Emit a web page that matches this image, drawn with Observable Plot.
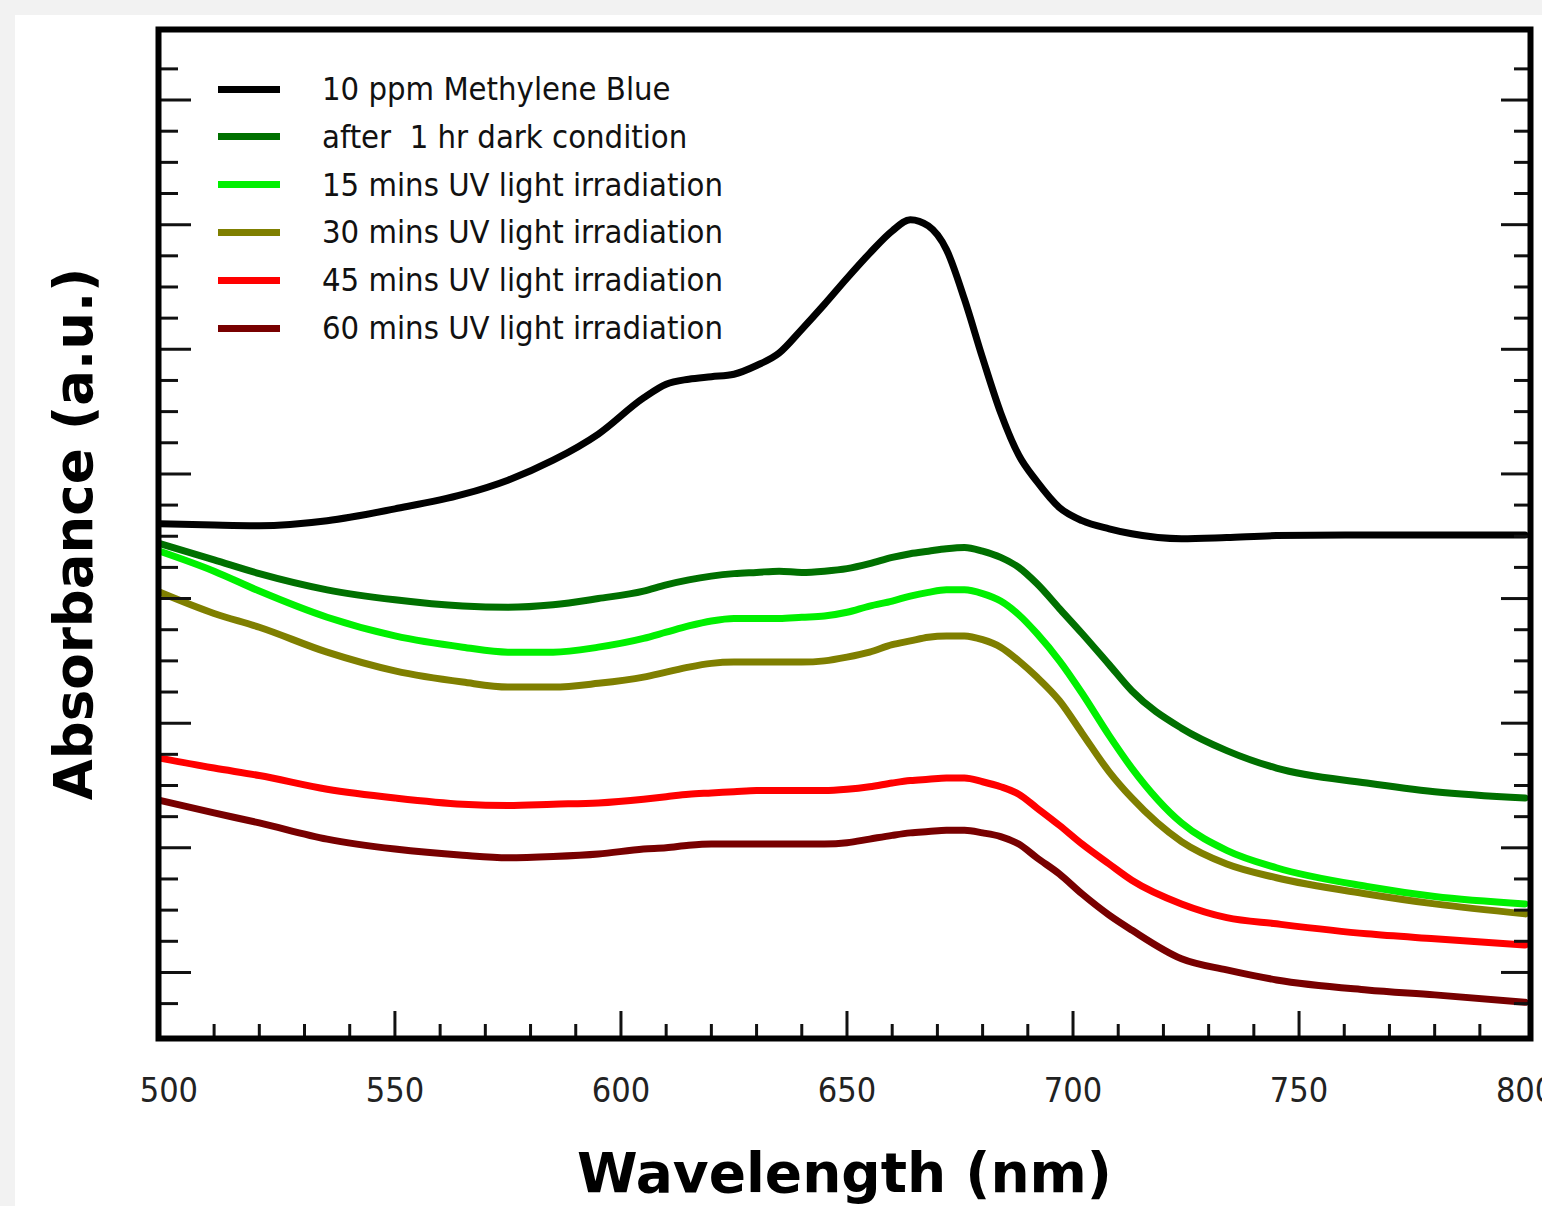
<!DOCTYPE html>
<html><head><meta charset="utf-8">
<script src="https://cdn.jsdelivr.net/npm/d3@7"></script>
<script src="https://cdn.jsdelivr.net/npm/@observablehq/plot@0.6"></script>
<style>
html,body{margin:0;padding:0;overflow:hidden;background:#f2f2f2;width:1542px;height:1206px}
#panel{position:absolute;left:15px;top:15px;width:1527px;height:1191px;background:#fff}
#chart{position:absolute;left:0;top:0}
#legend{position:absolute;left:218px;top:65px;font-family:"DejaVu Sans Condensed","DejaVu Sans",sans-serif;font-size:32.5px;color:#111}
.row{position:absolute;left:0;height:48px;display:flex;align-items:center;white-space:nowrap}
.sw{width:62px;height:7px;margin-right:42px;flex:none}
</style></head><body>
<div id="panel"></div><div id="chart"></div><div id="legend"></div>
<script>
const wavelengths = [498,510,520,535,550,565,575,585,595,605,610,615,620,625,630,635,640,645,650,655,660,664,668,672,676,680,684,688,692,697,702,708,713,724,734,745,765,780,800];
const mb10ppm   = [.460,.459,.4585,.4625,.472,.4835,.495,.511,.532,.561,.572,.576,.578,.580,.587,.597,.616,.636,.657,.677,.695,.704,.699,.680,.640,.593,.549,.515,.494,.473,.4625,.456,.452,.448,.449,.4505,.451,.451,.451];
const dark1hr   = [.444,.431,.420,.407,.399,.394,.393,.395,.400,.406,.411,.415,.418,.420,.421,.422,.421,.422,.424,.428,.433,.436,.438,.440,.441,.438,.433,.425,.412,.392,.372,.347,.326,.296,.278,.264,.252,.245,.240];
const uv15      = [.438,.422,.406,.385,.370,.361,.357,.357,.361,.368,.373,.378,.382,.384,.384,.384,.385,.386,.389,.394,.398,.402,.405,.407,.407,.404,.398,.387,.372,.350,.324,.290,.264,.220,.198,.184,.169,.161,.155];
const uv30      = [.405,.388,.377,.357,.342,.333,.329,.329,.332,.337,.341,.345,.348,.349,.349,.349,.349,.350,.353,.357,.363,.366,.369,.370,.370,.367,.361,.350,.337,.318,.292,.261,.240,.205,.187,.176,.163,.155,.147];
const uv45      = [.272,.264,.258,.247,.240,.235,.234,.235,.236,.239,.241,.243,.244,.245,.246,.246,.246,.246,.247,.249,.252,.254,.255,.256,.256,.253,.249,.243,.232,.218,.203,.187,.174,.155,.144,.139,.131,.127,.122];
const uv60      = [.238,.228,.220,.207,.199,.194,.192,.193,.195,.199,.200,.202,.203,.203,.203,.203,.203,.203,.204,.207,.210,.212,.213,.214,.214,.212,.209,.203,.192,.179,.163,.146,.134,.111,.102,.094,.086,.082,.076];
const seriesNames = ["10 ppm Methylene Blue","after  1 hr dark condition","15 mins UV light irradiation","30 mins UV light irradiation","45 mins UV light irradiation","60 mins UV light irradiation"];
const seriesColors = ["#000000","#007000","#00f000","#7f7f00","#ff0000","#780000"];
const xTickLabels = [500,550,600,650,700,750,800];
const xMajorTicks = [550,600,650,700,750];
const xMinorTicks = [510,520,530,540,560,570,580,590,610,620,630,640,660,670,680,690,710,720,730,740,760,770,780,790];
const yMajorTicks = [0.1,0.2,0.3,0.4,0.5,0.6,0.7,0.8];
const yMinorTicks = [0.075,0.125,0.15,0.175,0.225,0.25,0.275,0.325,0.35,0.375,0.425,0.45,0.475,0.525,0.55,0.575,0.625,0.65,0.675,0.725,0.75,0.775,0.825];
const xLabel = "Wavelength (nm)";
const yLabel = "Absorbance (a.u.)";

const seriesValues = [mb10ppm, dark1hr, uv15, uv30, uv45, uv60];
const data = seriesNames.flatMap((name,i)=>wavelengths.map((w,j)=>({name, w, a: seriesValues[i][j]})));

const W=1542,H=1206, ml=158, mr=12, mt=29, mb=168;
const innerW=W-ml-mr, innerH=H-mt-mb;
const tickStyle = {stroke:"#111", strokeWidth:3};
const plot = Plot.plot({
  width:W, height:H, marginLeft:ml, marginRight:mr, marginTop:mt, marginBottom:mb,
  style:{background:"transparent", overflow:"hidden"},
  x:{domain:[497.7,801.2], axis:null},
  y:{domain:[0.047,0.8566], axis:null},
  color:{domain:seriesNames, range:seriesColors},
  marks:[
    Plot.line(data,{x:"w", y:"a", z:"name", stroke:"name", strokeWidth:7, curve:"monotone-x"}),
    Plot.tickY(yMajorTicks,{y:d=>d, ...tickStyle, insetRight: innerW-33}),
    Plot.tickY(yMinorTicks,{y:d=>d, ...tickStyle, insetRight: innerW-20}),
    Plot.tickY(yMajorTicks,{y:d=>d, ...tickStyle, insetLeft: innerW-29}),
    Plot.tickY(yMinorTicks,{y:d=>d, ...tickStyle, insetLeft: innerW-16}),
    Plot.tickX(xMajorTicks,{x:d=>d, ...tickStyle, insetTop: innerH-27}),
    Plot.tickX(xMinorTicks,{x:d=>d, ...tickStyle, insetTop: innerH-14}),
    Plot.axisX(xTickLabels,{tickSize:0, tickPadding:39, fontSize:34, fontFamily:"'DejaVu Sans Condensed','DejaVu Sans',sans-serif", fill:"#222", label:null}),
    Plot.frame({stroke:"#000", strokeWidth:6}),
    Plot.text([yLabel],{frameAnchor:"left", rotate:-90, dx:-83, fontSize:53, fontWeight:"bold", fontFamily:"'DejaVu Sans',sans-serif", fill:"#000", textAnchor:"middle", lineAnchor:"middle"}),
    Plot.text([xLabel],{frameAnchor:"bottom", dy:136, fontSize:55, fontWeight:"bold", fontFamily:"'DejaVu Sans',sans-serif", fill:"#000", textAnchor:"middle", lineAnchor:"middle"})
  ]
});
document.getElementById("chart").appendChild(plot);

const legend = d3.select("#legend");
seriesNames.forEach((name,i)=>{
  const row = legend.append("div").attr("class","row").style("top", (i*47.8)+"px");
  row.append("div").attr("class","sw").style("background", seriesColors[i]);
  row.append("span").style("white-space","pre").text(name);
});
</script>
</body></html>
